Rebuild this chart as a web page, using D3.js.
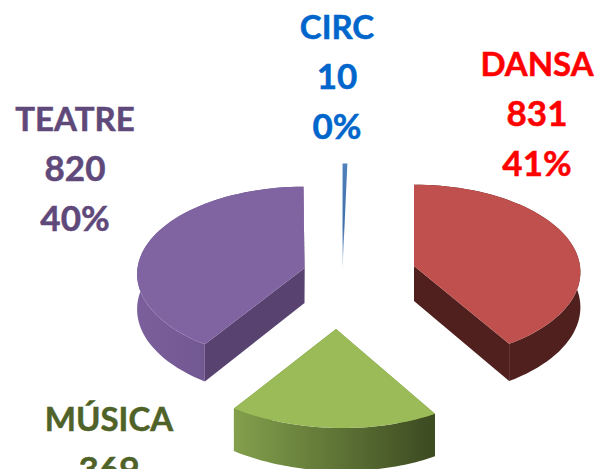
<!DOCTYPE html>
<html>
<head>
<meta charset="utf-8">
<script src="https://cdn.jsdelivr.net/npm/d3@7"></script>
<style>
html,body{margin:0;padding:0;background:#fff;overflow:hidden}
svg{display:block}
text{font-family:Lato,Carlito,sans-serif;font-weight:700;text-anchor:middle}
</style>
</head>
<body>
<svg id="c" width="598" height="469"></svg>
<script>
// Data
const categories = ["DANSA", "MÚSICA", "TEATRE", "CIRC"];
const values = [831, 369, 820, 10];

// Styles & layout (one entry per category)
const topColors = ["#C0504D", "#9BBB59", "#8064A2", "#4F81BD"];
const labelColors = ["#FF0000", "#4F6228", "#5F497A", "#0066CC"];
const cutColors = ["#4F201D", "#6B8A3A", "#584370", "#4F81BD"];
const wallFrom = ["#4F201D", "#83A04C", "#7B5F9C", "#4F81BD"];
const wallTo = ["#4F201D", "#3C4A21", "#654E82", "#4F81BD"];
const apexX = [414, 336, 304.5, 342.5];
const apexY = [266, 329, 268, 270];
const radX = [166, 175, 167, 166];
const radY = [87, 92, 87, 114];
const wallDepth = [35, 40, 35, 0];
const turn = [0, 0.5, 1.4, 1.8];   // degrees
const tilt = [0, 0.02, 0, 0];
const labelX = [537, 109, 75, 337];
const labelBase = [76, 431, 131, 39];
const lineGap = [50, 51, 50, 50];
const lineSizes = [33, 35, 35];
const persp = 0.07;
const pageHeight = 469;

const svg = d3.select("#c");
const defs = svg.append("defs");
const total = d3.sum(values);
const pct = d3.format(".0%");
const arcs = d3.pie().sort(null).value(d => d)(values);

function project(i, ang, r) {
  const a = ang + turn[i] * Math.PI / 180;
  const X = Math.sin(a) * r, Y = -Math.cos(a) * r;
  const s = 1 / (1 - persp * Y);
  const dx = radX[i] * X * s;
  return [apexX[i] + dx, apexY[i] + radY[i] * Y * s + tilt[i] * dx, s];
}
const line = d3.line();

arcs.forEach((d, i) => {
  const angs = d3.range(0, 61).map(k => d3.interpolateNumber(d.startAngle, d.endAngle)(k / 60));
  const rim = angs.map(a => project(i, a, 1));
  const apex = project(i, d.startAngle, 0);
  const g = svg.append("g");
  const depth = wallDepth[i];

  if (depth > 0) {
    const xs = d3.extent(rim, p => p[0]);
    const gid = "wall" + i;
    const grad = defs.append("linearGradient").attr("id", gid)
      .attr("gradientUnits", "userSpaceOnUse")
      .attr("x1", xs[0]).attr("x2", xs[1]).attr("y1", 0).attr("y2", 0);
    grad.append("stop").attr("offset", 0).attr("stop-color", wallFrom[i]);
    grad.append("stop").attr("offset", 1).attr("stop-color", wallTo[i]);

    const down = p => [p[0], p[1] + depth * (p[2] || 1)];
    // cut faces
    [rim[0], rim[rim.length - 1]].forEach(e => {
      const q = [apex, e, down(e), down(apex)].map(p => [p[0], p[1]]);
      g.append("path").attr("d", line(q) + "Z").attr("fill", cutColors[i]);
    });
    // outer wall
    const wall = rim.concat(rim.slice().reverse().map(down));
    g.append("path").attr("d", line(wall.map(p => [p[0], p[1]])) + "Z").attr("fill", `url(#${gid})`);
  }

  // top face
  let fill = topColors[i];
  if (depth === 0) {
    const gid = "fade" + i;
    const grad = defs.append("linearGradient").attr("id", gid)
      .attr("gradientUnits", "userSpaceOnUse")
      .attr("x1", 0).attr("x2", 0).attr("y1", d3.min(rim, p => p[1])).attr("y2", apex[1]);
    grad.append("stop").attr("offset", 0).attr("stop-color", "#4F81BD");
    grad.append("stop").attr("offset", 0.6).attr("stop-color", "#3F6FA8");
    grad.append("stop").attr("offset", 1).attr("stop-color", "#C9DAEE");
    fill = `url(#${gid})`;
  }
  const face = [apex].concat(rim).map(p => [p[0], p[1]]);
  g.append("path").attr("d", line(face) + "Z").attr("fill", fill);

  // labels (a line that falls wholly below the page is not drawn)
  const lines = [categories[i], String(values[i]), pct(values[i] / total)];
  lines.forEach((t, k) => {
    const y = labelBase[i] + k * lineGap[i];
    if (y - lineSizes[k] > pageHeight) return;
    svg.append("text")
      .attr("x", labelX[i])
      .attr("y", y)
      .attr("font-size", lineSizes[k])
      .attr("fill", labelColors[i])
      .attr("stroke", labelColors[i])
      .attr("stroke-width", 0.5)
      .text(t);
  });
});
</script>
</body>
</html>
